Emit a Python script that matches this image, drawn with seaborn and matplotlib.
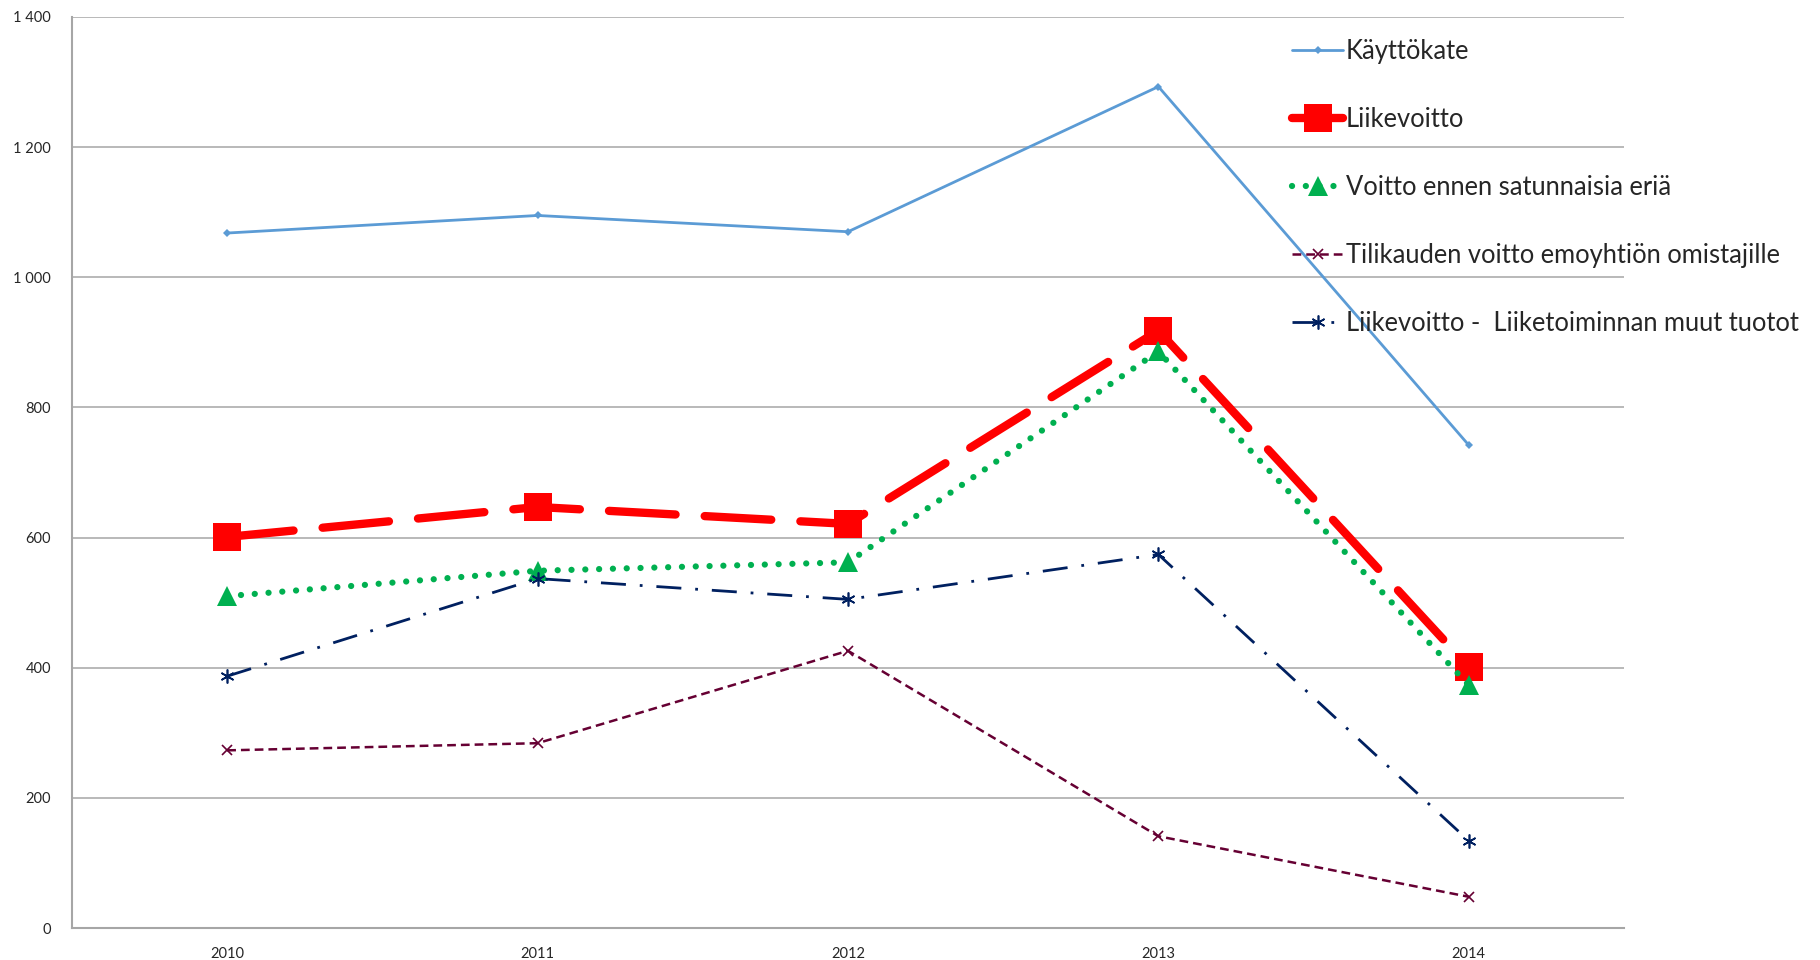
import numpy as np
import pandas as pd
import matplotlib
matplotlib.use("Agg")
import matplotlib.pyplot as plt
from matplotlib.ticker import FuncFormatter, FixedLocator
import seaborn as sns

# Data
years = ["2010", "2011", "2012", "2013", "2014"]
kayttokate = [1068, 1095, 1070, 1293, 742]
liikevoitto = [601, 647, 621, 918, 401]
voitto_ennen = [510, 549, 562, 886, 373]
tilikauden_voitto = [273, 284, 426, 141, 48]
liikevoitto_muut = [387, 537, 505, 574, 134]

labels = [
    "Käyttökate",
    "Liikevoitto",
    "Voitto ennen satunnaisia eriä",
    "Tilikauden voitto emoyhtiön omistajille",
    "Liikevoitto -  Liiketoiminnan muut tuotot",
]
series = [kayttokate, liikevoitto, voitto_ennen, tilikauden_voitto, liikevoitto_muut]

styles = [
    dict(color="#5B9BD5", lw=2.0, marker="D", markersize=4.5, linestyle="-",
         markeredgewidth=0),
    dict(color="#FF0000", lw=6.0, marker="s", markersize=20, linestyle=(0, (8, 3.5)),
         dash_capstyle="round", solid_capstyle="round", markeredgewidth=0),
    dict(color="#00B050", lw=4.5, marker="^", markersize=15, linestyle=(0, (0.01, 2.2)),
         dash_capstyle="round", markeredgewidth=0),
    dict(color="#660033", lw=1.8, marker="x", markersize=7, markeredgewidth=1.2,
         markeredgecolor="#660033", linestyle=(0, (3.5, 2))),
    dict(color="#002060", lw=2.0, marker=(6, 2, 0), markersize=10, markeredgewidth=1.2,
         markeredgecolor="#002060", linestyle=(0, (9, 5, 1, 5))),
]

sns.set_style("white")
plt.rcParams["font.family"] = ["Lato", "DejaVu Sans"]

fig = plt.figure(figsize=(18.2, 9.6), dpi=100)
ax = fig.add_axes([72 / 1820, 32 / 960, (1624 - 72) / 1820, (928 - 17) / 960])

for vals, lab, st in zip(series, labels, styles):
    df = pd.DataFrame({"year": years, "value": vals})
    sns.lineplot(data=df, x="year", y="value", ax=ax, label=lab,
                 sort=False, legend=False, **st)

ax.set_xlim(-0.5, 4.5)
ax.set_ylim(0, 1400)
ax.set_yticks(np.arange(0, 1401, 200))
ax.yaxis.set_major_formatter(FuncFormatter(lambda v, p: f"{int(v):,}".replace(",", " ")))
ax.grid(axis="y", color="#A6A6A6", lw=1.1)
ax.grid(axis="x", visible=False)
ax.set_axisbelow(True)

ax.set_xticks(range(len(years)))
ax.set_xticklabels(years)
ax.xaxis.set_minor_locator(FixedLocator(np.arange(-0.5, 4.6, 1.0)))
ax.tick_params(axis="x", which="major", length=0, pad=14, labelsize=10.5)
ax.tick_params(axis="x", which="minor", length=6, color="#A6A6A6", direction="out")
ax.tick_params(axis="y", which="major", length=5, color="#A6A6A6", direction="out",
               labelsize=10.5, pad=10)
ax.set_xlabel("")
ax.set_ylabel("")

for side in ["top", "right"]:
    ax.spines[side].set_visible(False)
for side in ["left", "bottom"]:
    ax.spines[side].set_color("#A6A6A6")
    ax.spines[side].set_linewidth(1.5)

handles, labs = ax.get_legend_handles_labels()
leg = fig.legend(handles, labs, loc="upper left", bbox_to_anchor=(1292 / 1820, 1 - 39 / 960),
                 frameon=False, fontsize=18.4, handlelength=2.0, handletextpad=0.1,
                 labelspacing=1.68, borderaxespad=0, borderpad=0)

fig.savefig("out.png", dpi=100)
